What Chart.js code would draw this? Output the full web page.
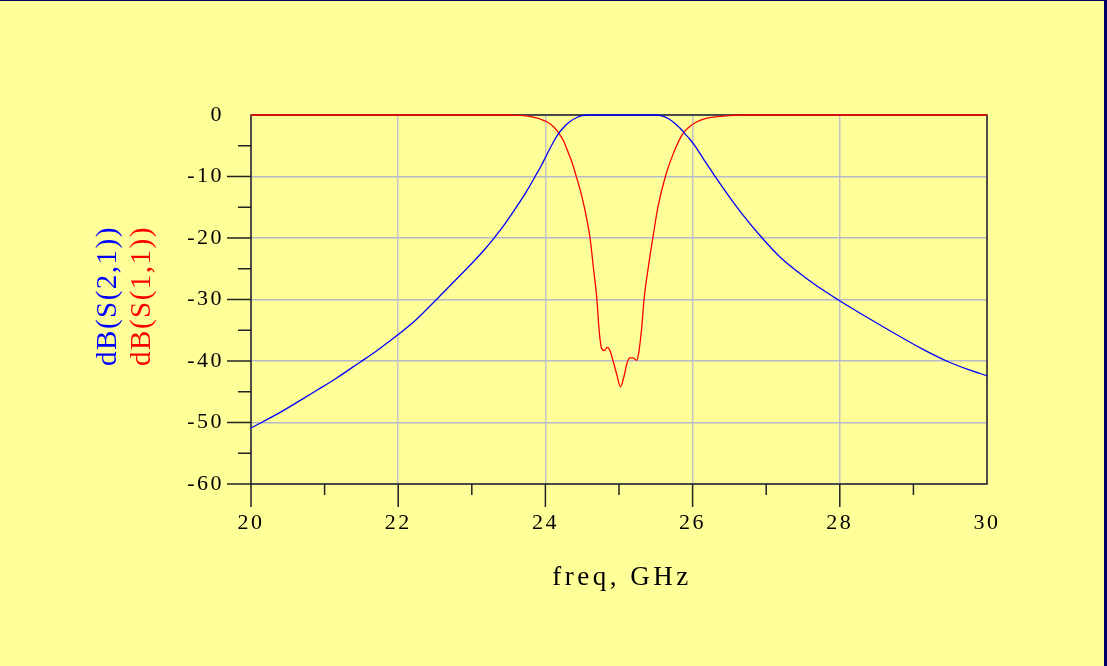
<!DOCTYPE html>
<html>
<head>
<meta charset="utf-8">
<script src="https://cdn.jsdelivr.net/npm/chart.js@4.4.1/dist/chart.umd.min.js"></script>
<style>
  html, body { margin: 0; padding: 0; background: #ffff99; overflow: hidden; }
  #wrap { position: relative; width: 1107px; height: 666px; }
  #plot { position: absolute; left: 0; top: 0; }
  .edge { position: absolute; background: #000066; }
</style>
</head>
<body>
<div id="wrap">
  <canvas id="plot" width="1107" height="666"></canvas>
  <div class="edge" style="left:0;top:0;width:1107px;height:1px"></div>
  <div class="edge" style="right:0;top:0;width:3px;height:666px"></div>
</div>
<script>
// dB(S(2,1)) - transmission
const freqS21 = [20.0, 20.39, 20.67, 20.89, 21.16, 21.48, 21.70, 22.0, 22.25, 22.52, 22.70, 22.93,
  23.15, 23.31, 23.45, 23.61, 23.74, 23.88, 23.95, 24.0, 24.1, 24.18, 24.25, 24.33, 24.42, 24.5, 24.6,
  25.5, 25.58, 25.64, 25.71, 25.78, 25.85, 25.9, 25.96, 26.02, 26.14, 26.3, 26.5, 26.68, 26.93, 27.18,
  27.45, 27.7, 27.97, 28.3, 28.67, 29.13, 29.49, 29.75, 30.0];
const s21 = [-50.9, -48.4, -46.4, -44.8, -42.8, -40.2, -38.4, -35.7, -33.2, -30.0, -27.8, -25.0,
  -22.2, -19.9, -17.7, -14.9, -12.5, -9.6, -8.1, -6.9, -4.6, -3.0, -2.0, -1.1, -0.45, -0.12, 0,
  0, -0.15, -0.4, -0.9, -1.6, -2.4, -3.1, -3.9, -4.8, -7.0, -9.9, -13.3, -16.2, -19.8, -23.0,
  -25.7, -27.9, -30.0, -32.4, -35.0, -38.1, -40.2, -41.4, -42.4];

// dB(S(1,1)) - reflection
const freqS11 = [20.0, 23.5, 23.65, 23.8, 23.93, 24.02, 24.11, 24.18, 24.25, 24.31, 24.37, 24.42,
  24.49, 24.56, 24.61, 24.65, 24.7, 24.73, 24.76, 24.8, 24.84, 24.88, 24.92, 24.97, 25.02,
  25.07, 25.11, 25.15, 25.19, 25.24, 25.27, 25.31, 25.34, 25.4, 25.47, 25.53, 25.63, 25.74,
  25.87, 25.96, 26.06, 26.17, 26.28, 26.49, 26.65, 30.0];
const s11 = [0, 0, -0.05, -0.25, -0.65, -1.1, -1.9, -2.9, -4.3, -6.1, -8.0, -10.0,
  -13.0, -16.8, -20.3, -24.6, -30.0, -35.0, -37.8, -38.3, -37.8, -38.4, -40.0, -42.2, -44.2,
  -42.4, -40.3, -39.5, -39.5, -39.9, -38.5, -34.4, -30.0, -24.6, -19.2, -14.9, -10.0, -6.2,
  -3.0, -1.9, -1.1, -0.6, -0.35, -0.1, 0, 0];

const yMajor = [-60, -50, -40, -30, -20, -10];
const yMinor = [-55, -45, -35, -25, -15, -5];
const xMajor = [20, 22, 24, 26, 28];
const xMinor = [21, 23, 25, 27, 29];
const xTitle = 'freq, GHz';
const seriesNames = ['dB(S(2,1))', 'dB(S(1,1))'];
const seriesColors = ['#0000ff', '#ff0000'];

const toPoints = (xs, ys) => xs.map((x, i) => ({ x: x, y: ys[i] }));
const serif = '"Liberation Serif", "Times New Roman", serif';

Chart.defaults.font.family = serif;
Chart.defaults.color = '#000';

// ADS-like frame, ticks and titles
const adsStyle = {
  id: 'adsStyle',
  beforeDraw(chart) {
    chart.ctx.letterSpacing = '2.5px';
  },
  beforeDatasetsDraw(chart) {
    const { ctx, chartArea: a } = chart;
    ctx.save();
    ctx.strokeStyle = '#222';
    ctx.lineWidth = 1.5;
    ctx.strokeRect(a.left, a.top, a.right - a.left, a.bottom - a.top);
    ctx.restore();
  },
  afterDraw(chart) {
    const { ctx, chartArea: a, scales } = chart;
    ctx.save();
    ctx.strokeStyle = '#222';
    ctx.lineWidth = 1.5;
    ctx.beginPath();
    yMajor.forEach(v => { const p = scales.y.getPixelForValue(v); ctx.moveTo(a.left - 24, p); ctx.lineTo(a.left, p); });
    yMinor.forEach(v => { const p = scales.y.getPixelForValue(v); ctx.moveTo(a.left - 13, p); ctx.lineTo(a.left, p); });
    xMajor.forEach(v => { const p = scales.x.getPixelForValue(v); ctx.moveTo(p, a.bottom); ctx.lineTo(p, a.bottom + 23); });
    xMinor.forEach(v => { const p = scales.x.getPixelForValue(v); ctx.moveTo(p, a.bottom); ctx.lineTo(p, a.bottom + 11); });
    ctx.stroke();

    ctx.textAlign = 'center';
    ctx.textBaseline = 'middle';

    ctx.font = '27px ' + serif;
    ctx.letterSpacing = '3.5px';
    ctx.fillStyle = '#000';
    ctx.fillText(xTitle, (a.left + a.right) / 2 + 3, 578);

    ctx.font = '29px ' + serif;
    ctx.letterSpacing = '1.5px';
    const xs = [108, 142];
    seriesNames.forEach((name, i) => {
      ctx.save();
      ctx.translate(xs[i], 296);
      ctx.rotate(-Math.PI / 2);
      ctx.fillStyle = seriesColors[i];
      ctx.fillText(name, 0, 0);
      ctx.restore();
    });
    ctx.restore();
  }
};

new Chart(document.getElementById('plot'), {
  type: 'line',
  data: {
    datasets: [
      { label: seriesNames[0], data: toPoints(freqS21, s21), borderColor: seriesColors[0],
        borderWidth: 1.3, pointRadius: 0, cubicInterpolationMode: 'monotone', clip: 4 },
      { label: seriesNames[1], data: toPoints(freqS11, s11), borderColor: seriesColors[1],
        borderWidth: 1.3, pointRadius: 0, cubicInterpolationMode: 'monotone', clip: 4 }
    ]
  },
  options: {
    responsive: false,
    devicePixelRatio: 1,
    animation: false,
    events: [],
    layout: { padding: { top: 115, right: 120, left: 0, bottom: 0 } },
    plugins: { legend: { display: false }, tooltip: { enabled: false } },
    scales: {
      x: {
        type: 'linear', min: 20, max: 30,
        ticks: { stepSize: 2, padding: 26, font: { size: 22 }, color: '#000', maxRotation: 0 },
        grid: { color: '#c4c4c4', lineWidth: 1.5, drawTicks: false },
        border: { display: false },
        afterFit: s => { s.height = 182; }
      },
      y: {
        type: 'linear', min: -60, max: 0,
        ticks: { stepSize: 10, padding: 27, font: { size: 22 }, color: '#000' },
        grid: { color: '#b8b8cc', lineWidth: 1.5, drawTicks: false },
        border: { display: false },
        afterFit: s => { s.width = 251; }
      }
    }
  },
  plugins: [adsStyle]
});
</script>
</body>
</html>
